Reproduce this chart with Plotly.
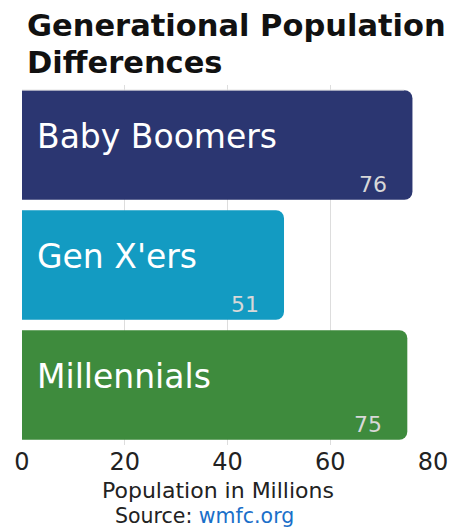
import plotly.graph_objects as go

generations = ["Baby Boomers", "Gen X'ers", "Millennials"]
population = [76, 51, 75]
bar_colors = ["#2b3671", "#139bc2", "#3e8b3d"]
tick_values = [0, 20, 40, 60, 80]

FONT = "DejaVu Sans"

fig = go.Figure()
fig.add_trace(go.Bar(
    x=population,
    y=generations,
    orientation="h",
    marker=dict(color=bar_colors, cornerradius=8, line=dict(width=0)),
    hoverinfo="skip",
))

annotations = []
for name, val in zip(generations, population):
    # category name inside the bar, left-aligned
    annotations.append(dict(
        x=0, y=name, xref="x", yref="y", text=name, showarrow=False,
        xanchor="left", yanchor="middle", xshift=13, yshift=9,
        font=dict(family=FONT, size=33, color="white"),
    ))
    # value in the lower right corner of the bar
    annotations.append(dict(
        x=val, y=name, xref="x", yref="y", text=str(val), showarrow=False,
        xanchor="right", yanchor="middle", xshift=-23, yshift=-39,
        font=dict(family=FONT, size=22, color="#d8d8d8"),
    ))

# two-line title
annotations.append(dict(
    x=0, y=1, xref="paper", yref="paper", showarrow=False,
    text="<b>Generational Population</b>", xanchor="left", yanchor="middle",
    xshift=3, yshift=60,
    font=dict(family=FONT, size=30.5, color="#111111"),
))
annotations.append(dict(
    x=0, y=1, xref="paper", yref="paper", showarrow=False,
    text="<b>Differences</b>", xanchor="left", yanchor="middle",
    xshift=3, yshift=23,
    font=dict(family=FONT, size=30.5, color="#111111"),
))

annotations.append(dict(
    x=0.476, y=-0.126, xref="paper", yref="paper", showarrow=False,
    text="Population in Millions", xanchor="center", yanchor="middle",
    borderpad=0,
    font=dict(family=FONT, size=22, color="#222222"),
))
annotations.append(dict(
    x=0.443, y=-0.197, xref="paper", yref="paper", showarrow=False,
    text="Source: <span style='color:#1a6fc9'>wmfc.org</span>",
    xanchor="center", yanchor="middle", borderpad=0,
    font=dict(family=FONT, size=20.5, color="#222222"),
))

fig.update_layout(
    width=461, height=529,
    margin=dict(l=22, r=28, t=85, b=84),
    paper_bgcolor="white", plot_bgcolor="white",
    bargap=0.087,
    showlegend=False,
    annotations=annotations,
    xaxis=dict(
        range=[0, 80], tickvals=tick_values, showgrid=True,
        gridcolor="#dddddd", gridwidth=1, zeroline=False,
        showline=False, ticks="",
        tickfont=dict(family=FONT, size=24, color="#222222"),
    ),
    yaxis=dict(
        autorange="reversed", showticklabels=False, showgrid=False,
        zeroline=False, showline=False,
    ),
    shapes=[dict(
        type="line", xref="paper", yref="paper", x0=0, x1=0.93,
        y0=0.986, y1=0.986, line=dict(color="#e0e0e0", width=1),
    )],
)

fig.write_html("out.html")
